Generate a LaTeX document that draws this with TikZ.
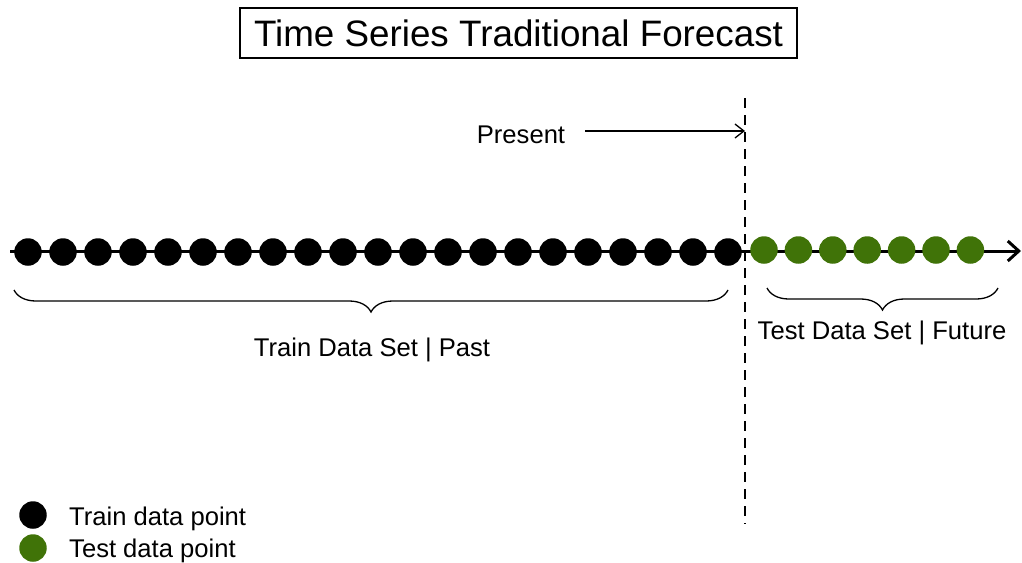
\documentclass[tikz,border=0pt]{standalone}
\usepackage{fontspec}
\setmainfont{Liberation Sans}
\usetikzlibrary{arrows.meta,decorations.pathreplacing}
\definecolor{testgreen}{RGB}{64,115,8}
\tikzset{
  lbl/.style={font=\fontsize{25.6}{30}\selectfont, inner sep=0pt},
  dot/.style={circle, inner sep=0pt, minimum size=27.5pt, fill=#1},
  curly/.style={decorate, decoration={brace, amplitude=22pt}, line width=1.3pt},
}
\begin{document}
\begin{tikzpicture}[x=1pt, y=-1pt]
\useasboundingbox (0,0) rectangle (1022,562);

% title
\node[draw, line width=1.2pt, minimum width=557pt, minimum height=50pt,
      font=\fontsize{36.8}{42}\selectfont] (title) at (518.5,33) {Time Series Traditional Forecast};

% present marker
\coordinate (dtop) at (745,98);
\coordinate (dbot) at (745,524);
\draw[dashed, dash pattern=on 10pt off 7pt, line width=1.3pt] (dtop) -- (dbot);
\node[lbl] (present) at (521,135) {Present};
\coordinate (ptip) at (745,131);
\draw[line width=1.3pt, -{Straight Barb[length=9pt, width=14pt]}] (585,131) -- (ptip);

% time axis
\coordinate (axs) at (10,251);
\coordinate (axe) at (1021,251);
\draw[line width=3pt, -{Straight Barb[length=11pt, width=20pt, line width=3pt]}] (axs) -- (axe);

% training points
\foreach \i in {0,...,20} {
  \node[dot=black] (tr\i) at (28+35*\i,252) {};
}
% test points
\foreach \i in {0,...,6} {
  \node[dot=testgreen] (te\i) at (764+34.4*\i,250) {};
}

% braces
\coordinate (b1r) at (728,290);
\coordinate (b1l) at (14,290);
\draw[curly] (b1r) -- (b1l);
\node[lbl] (trainlbl) at (372,350) {Train Data Set | Past};

\coordinate (b2r) at (998,288);
\coordinate (b2l) at (767,288);
\draw[curly] (b2r) -- (b2l);
\node[lbl] (testlbl) at (882,333) {Test Data Set | Future};

% legend
\node[dot=black] (lg1) at (33,515) {};
\node[dot=testgreen] (lg2) at (33,548) {};
\node[lbl, anchor=west] (lg1t) at (69,519) {Train data point};
\node[lbl, anchor=west] (lg2t) at (69,551) {Test data point};
\end{tikzpicture}
\end{document}
